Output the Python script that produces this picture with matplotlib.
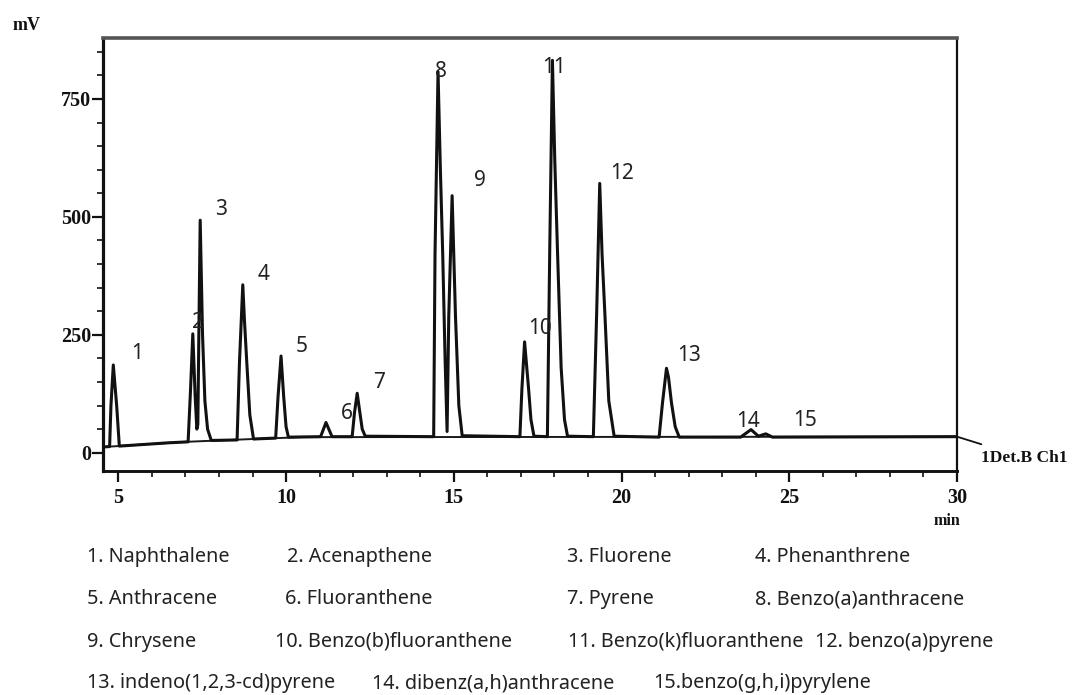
import matplotlib
matplotlib.use("Agg")
import matplotlib.pyplot as plt
from matplotlib.ticker import MultipleLocator

# ---- chromatogram trace (time in min, detector signal in mV) ----
time_min = [
    4.53,
    4.74, 4.78, 4.85, 4.95, 5.03,                      # 1
    6.50,
    7.08, 7.15, 7.22, 7.29, 7.34, 7.37,                # 2
    7.40, 7.44, 7.51, 7.58, 7.66, 7.77,                # 3
    8.54, 8.61, 8.71, 8.76, 8.83, 8.92, 9.03,          # 4
    9.69, 9.76, 9.85, 9.93, 10.00, 10.07,              # 5
    11.03, 11.19, 11.37,
    11.97, 12.04, 12.12, 12.20, 12.27, 12.36,          # 6/7
    14.40, 14.44, 14.53, 14.60, 14.67, 14.74, 14.80,   # 8
    14.85, 14.95, 15.05, 15.15, 15.25,                 # 9
    16.97, 17.03, 17.11, 17.23, 17.30, 17.39,          # 10
    17.79, 17.86, 17.94, 18.01, 18.09, 18.20, 18.30, 18.39,  # 11
    19.16, 19.26, 19.35, 19.42, 19.50, 19.62, 19.78,   # 12
    21.12, 21.22, 21.34, 21.40, 21.49, 21.60, 21.72,   # 13
    23.55, 23.86, 24.08, 24.30, 24.50,                 # 14/15
    30.00,
]
signal_mv = [
    12,
    13, 100, 186, 100, 14,
    21,
    23, 130, 252, 120, 50, 60,
    250, 493, 250, 110, 50, 26,
    27, 190, 356, 280, 190, 80, 29,
    31, 118, 205, 118, 55, 33,
    34, 64, 34,
    34, 85, 126, 85, 50, 35,
    34, 420, 808, 600, 420, 200, 45,
    290, 545, 290, 100, 36,
    34, 135, 235, 135, 70, 35,
    34, 430, 832, 620, 430, 180, 70, 35,
    34, 300, 571, 420, 300, 110, 35,
    33, 105, 179, 160, 105, 55, 33,
    33, 49, 35, 40, 33,
    34,
]

# integration baseline drawn under the peaks
baseline_t = [4.53, 7.0, 9.0, 10.5, 30.0]
baseline_mv = [12, 23, 29, 33, 34]

# peak numbers and where they are written
peak_ids = [str(i) for i in range(1, 16)]
label_t = [5.56, 7.38, 8.07, 9.32, 10.48, 11.82, 12.78, 14.62, 15.77,
           17.57, 17.98, 20.03, 22.00, 23.76, 25.47]
label_mv = [211, 277, 516, 377, 226, 84, 148, 808, 578,
            264, 816, 593, 207, 66, 68]

# compound key below the chart
compounds = [
    "1. Naphthalene", "2. Acenapthene", "3. Fluorene", "4. Phenanthrene",
    "5. Anthracene", "6. Fluoranthene", "7. Pyrene", "8. Benzo(a)anthracene",
    "9. Chrysene", "10. Benzo(b)fluoranthene", "11. Benzo(k)fluoranthene",
    "12. benzo(a)pyrene",
    "13. indeno(1,2,3-cd)pyrene", "14. dibenz(a,h)anthracene",
    "15.benzo(g,h,i)pyrylene",
]

x_ticks = [5, 10, 15, 20, 25, 30]
y_ticks = [0, 250, 500, 750]

# ---- layout (pixels of the 1072 x 695 canvas) ----
W, H = 1072, 695
key_xy = [
    (87, 557), (287, 557), (567, 557), (755, 557),
    (87, 599), (285, 599), (567, 599), (755, 599),
    (87, 641.5), (275, 641.5), (568, 641.5), (815, 641.5),
    (87, 683), (372, 683), (653, 683),
]

serif = "Liberation Serif"
sans = "Noto Sans"

fig = plt.figure(figsize=(W / 100, H / 100), dpi=100)
ax = fig.add_axes([102.7 / W, 1 - 471 / H, (957 - 102.7) / W, (471 - 38.3) / H])

ax.plot(baseline_t, baseline_mv, color="#1a1a1a", lw=1.4, zorder=2)
ax.plot(time_min, signal_mv, color="#111111", lw=2.2, zorder=3,
        solid_joinstyle="round")

ax.set_xlim(4.534, 30)
ax.set_ylim(-38.8, 878.7)

ax.set_xticks(x_ticks)
ax.set_yticks(y_ticks)
ax.xaxis.set_minor_locator(MultipleLocator(1))
ax.yaxis.set_minor_locator(MultipleLocator(50))
ax.tick_params(axis="both", which="major", direction="out", length=8,
               width=1.6, color="#111111", labelsize=14.5)
ax.tick_params(axis="both", which="minor", direction="out", length=4,
               width=1.3, color="#222222")
ax.tick_params(axis="y", which="major", pad=0.5)
ax.tick_params(axis="x", which="major", pad=4)
for lab in ax.get_xticklabels() + ax.get_yticklabels():
    lab.set_fontfamily(serif)
    lab.set_fontweight("bold")
    lab.set_color("#111111")

ax.spines["left"].set_linewidth(2.3)
ax.spines["bottom"].set_linewidth(2.1)
ax.spines["right"].set_linewidth(1.6)
ax.spines["top"].set_linewidth(2.6)
ax.spines["top"].set_color("#555555")
for side in ("left", "bottom", "right"):
    ax.spines[side].set_color("#111111")

for pid, t, mv in zip(peak_ids, label_t, label_mv):
    ax.text(t, mv, pid, fontsize=15, family=sans, color="#222222",
            ha="center", va="center", zorder=4)

# axis units and channel tag
fig.text(27 / W, 1 - 26 / H, "mV", family=serif, fontweight="bold",
         fontsize=13, ha="center", va="center", color="#111111")
fig.text(947 / W, 1 - 521 / H, "min", family=serif, fontweight="bold",
         fontsize=11.5, ha="center", va="center", color="#111111")
ax.annotate("1Det.B Ch1", xy=(30, baseline_mv[-1]), xycoords="data",
            xytext=(17, -15), textcoords="offset points",
            family=serif, fontweight="bold", fontsize=12.5,
            ha="left", va="center", color="#111111",
            arrowprops=dict(arrowstyle="-", color="#111111", lw=1.3,
                            shrinkA=6, shrinkB=0),
            annotation_clip=False)

for name, (px, py) in zip(compounds, key_xy):
    fig.text(px / W, 1 - py / H, name, family=sans, fontsize=14.3,
             ha="left", va="center", color="#222222")

fig.savefig("out.png", dpi=100)
